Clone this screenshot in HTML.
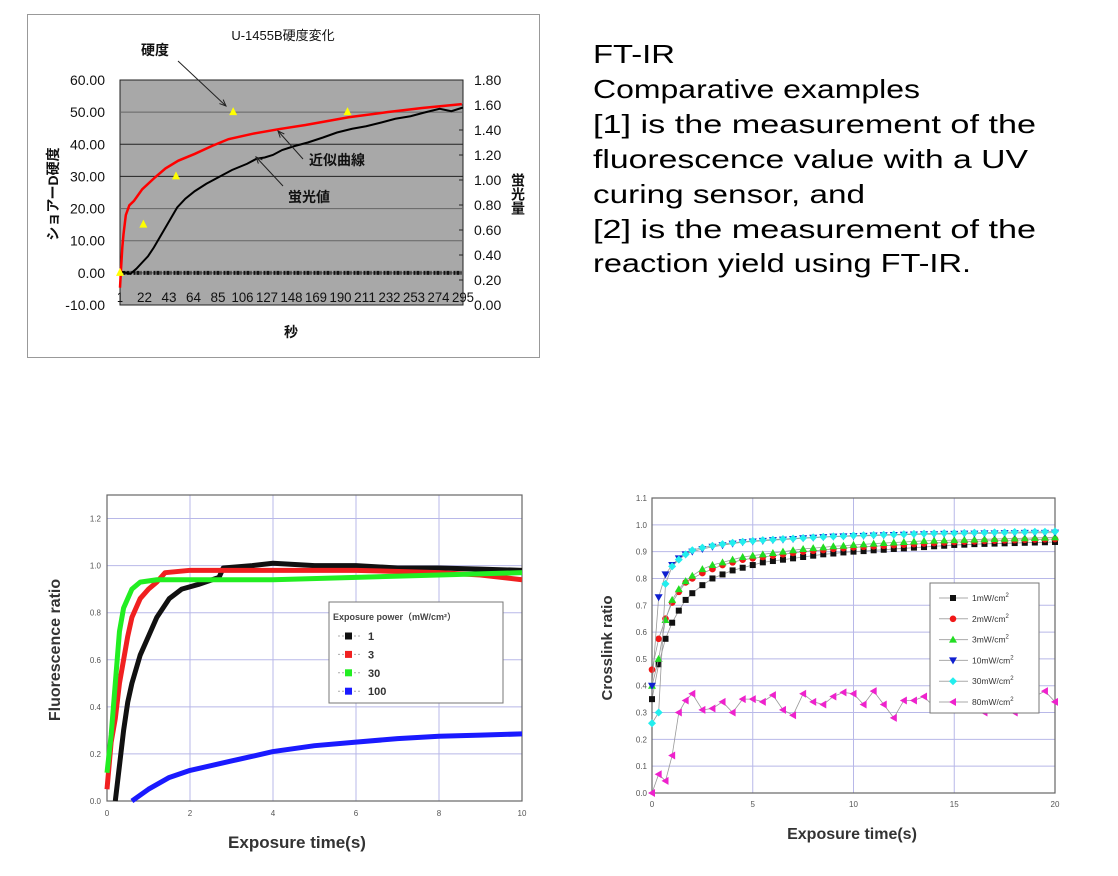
<!DOCTYPE html>
<html><head><meta charset="utf-8">
<style>
html,body{margin:0;padding:0;background:#fff;}
svg{display:block;}
text{font-family:"Liberation Sans","Noto Sans CJK JP",sans-serif;}
</style></head>
<body>
<svg id="root" width="1118" height="876" viewBox="0 0 1118 876" xmlns="http://www.w3.org/2000/svg">
<g id="top"></g>
<g id="desc">
<text x="593" y="63" font-size="26" textLength="82" lengthAdjust="spacingAndGlyphs">FT-IR</text>
<text x="593" y="98" font-size="26" textLength="327" lengthAdjust="spacingAndGlyphs">Comparative examples</text>
<text x="593" y="133" font-size="26" textLength="443" lengthAdjust="spacingAndGlyphs">[1] is the measurement of the</text>
<text x="593" y="168" font-size="26" textLength="435" lengthAdjust="spacingAndGlyphs">fluorescence value with a UV</text>
<text x="593" y="203" font-size="26" textLength="272" lengthAdjust="spacingAndGlyphs">curing sensor, and</text>
<text x="593" y="238" font-size="26" textLength="443" lengthAdjust="spacingAndGlyphs">[2] is the measurement of the</text>
<text x="593" y="272" font-size="26" textLength="378" lengthAdjust="spacingAndGlyphs">reaction yield using FT-IR.</text>
</g>
<g id="bl"></g>
<g id="br"></g>
</svg>
<script>
// ---------- Top chart data ----------
const topXTicks = [1,22,43,64,85,106,127,148,169,190,211,232,253,274,295];
const topLeftTicks = [-10,0,10,20,30,40,50,60];
const topRightTicks = [0,0.2,0.4,0.6,0.8,1.0,1.2,1.4,1.6,1.8];
const fitT = [1,2,3,4,6,9,13,20,31,40,51,65,80,94,115,137,160,197,230,260,294];
const fitV = [-4.6,2,8,12,18,21,22.4,26,29.7,32.5,34.9,37,39.5,41.6,43.3,44.7,46,48.4,50,51.3,52.5];
const fluT = [1,5,10,15,20,25,30,35,40,45,50,57,65,75,85,97,110,118,125,132,140,150,162,175,187,200,212,225,237,250,262,275,285,295];
const fluV = [0.27,0.26,0.25,0.29,0.34,0.39,0.46,0.54,0.62,0.70,0.78,0.85,0.91,0.97,1.02,1.08,1.13,1.17,1.18,1.20,1.24,1.27,1.30,1.34,1.38,1.41,1.43,1.46,1.49,1.51,1.54,1.57,1.55,1.58];
const hardT = [1,21,49,98,196];
const hardV = [0,15,30,50,50];

// ---------- Bottom-left data ----------
const blXTicks = [0,2,4,6,8,10];
const blYTicks = [0,0.2,0.4,0.6,0.8,1.0,1.2];
const blSeriesNames = ["1","3","30","100"];
const blT1 = [0.2,0.3,0.4,0.5,0.6,0.8,1.0,1.2,1.5,1.8,2.2,2.7,2.8,3.5,4,5,6,7,8,9,10];
const blV1 = [0,0.15,0.3,0.42,0.5,0.62,0.7,0.78,0.86,0.9,0.92,0.95,0.99,1.0,1.01,1.0,1.0,0.99,0.99,0.985,0.98];
const blT3 = [0,0.1,0.2,0.3,0.4,0.5,0.6,0.8,1.0,1.2,1.4,2,4,6,8,9,10];
const blV3 = [0.05,0.25,0.35,0.5,0.6,0.7,0.78,0.86,0.9,0.93,0.97,0.98,0.98,0.98,0.97,0.96,0.94];
const blT30 = [0,0.1,0.2,0.3,0.4,0.6,0.8,1.2,2,3,4,6,8,10];
const blV30 = [0.12,0.28,0.5,0.72,0.82,0.9,0.93,0.94,0.94,0.94,0.94,0.95,0.96,0.97];
const blT100 = [0.6,1,1.5,2,3,4,5,6,7,8,9,10];
const blV100 = [0,0.05,0.1,0.13,0.17,0.21,0.235,0.25,0.265,0.275,0.28,0.285];

// ---------- Bottom-right data ----------
const brXTicks = [0,5,10,15,20];
const brYTicks = [0,0.1,0.2,0.3,0.4,0.5,0.6,0.7,0.8,0.9,1.0,1.1];
const brTimes = [0,0.33,0.67,1,1.33,1.67,2,2.5,3,3.5,4,4.5,5,5.5,6,6.5,7,7.5,8,8.5,9,9.5,10,10.5,11,11.5,12,12.5,13,13.5,14,14.5,15,15.5,16,16.5,17,17.5,18,18.5,19,19.5,20];
const br1 = [0.35,0.48,0.575,0.635,0.68,0.72,0.745,0.775,0.80,0.815,0.83,0.84,0.85,0.86,0.865,0.87,0.875,0.88,0.885,0.89,0.893,0.897,0.90,0.902,0.905,0.907,0.91,0.912,0.915,0.917,0.92,0.922,0.925,0.926,0.928,0.929,0.93,0.931,0.932,0.933,0.934,0.935,0.936];
const br2 = [0.46,0.575,0.65,0.71,0.75,0.785,0.80,0.82,0.835,0.85,0.86,0.87,0.875,0.88,0.885,0.89,0.895,0.90,0.903,0.906,0.91,0.913,0.916,0.918,0.92,0.922,0.924,0.926,0.928,0.93,0.932,0.934,0.936,0.937,0.938,0.94,0.941,0.942,0.943,0.944,0.945,0.946,0.947];
const br3 = [0.40,0.50,0.645,0.72,0.76,0.79,0.81,0.835,0.85,0.86,0.87,0.88,0.885,0.89,0.895,0.90,0.905,0.91,0.913,0.916,0.92,0.922,0.925,0.927,0.93,0.932,0.934,0.936,0.938,0.94,0.941,0.942,0.943,0.944,0.945,0.946,0.947,0.948,0.949,0.95,0.951,0.952,0.953];
const br10 = [0.40,0.73,0.815,0.85,0.875,0.89,0.90,0.91,0.918,0.924,0.93,0.935,0.938,0.94,0.943,0.945,0.947,0.95,0.952,0.954,0.956,0.957,0.958,0.959,0.96,0.961,0.962,0.963,0.964,0.965,0.965,0.966,0.966,0.967,0.967,0.968,0.968,0.969,0.969,0.97,0.97,0.97,0.971];
const br30 = [0.26,0.30,0.78,0.845,0.87,0.89,0.905,0.915,0.922,0.928,0.933,0.937,0.94,0.943,0.945,0.947,0.949,0.951,0.953,0.955,0.957,0.958,0.96,0.961,0.962,0.963,0.964,0.965,0.966,0.967,0.968,0.969,0.969,0.97,0.971,0.971,0.972,0.972,0.973,0.973,0.974,0.974,0.975];
const br80 = [0.0,0.07,0.045,0.14,0.30,0.345,0.37,0.31,0.315,0.34,0.30,0.35,0.35,0.34,0.365,0.31,0.29,0.37,0.34,0.33,0.36,0.375,0.37,0.33,0.38,0.33,0.28,0.345,0.345,0.36,0.32,0.37,0.34,0.34,0.35,0.30,0.36,0.35,0.30,0.34,0.36,0.38,0.34];
const brLabels = ["1mW/cm","2mW/cm","3mW/cm","10mW/cm","30mW/cm","80mW/cm"];

const NS="http://www.w3.org/2000/svg";
function mk(parent,tag,attrs,txt){const e=document.createElementNS(NS,tag);for(const k in attrs)e.setAttribute(k,attrs[k]);if(txt!==undefined)e.textContent=txt;parent.appendChild(e);return e;}

// ================= TOP CHART =================
(function(){
const g=document.getElementById('top');
const X0=120,X1=463,Y0=80,Y1=305;
const xs=t=>X0+(t-1)*(X1-X0)/294;
const yl=v=>Y1-(v+10)*(Y1-Y0)/70;
const yr=v=>Y1-v*(Y1-Y0)/1.8;
let e=mk(g,'rect',{x:27.5,y:14.5,width:512,height:343,fill:'#fff',stroke:'#999'});


e=mk(g,'rect',{x:X0,y:Y0,width:X1-X0,height:Y1-Y0,fill:'#a8a8a8',stroke:'#222','stroke-width':1});


topLeftTicks.forEach(v=>{
  if(v>-10&&v<60){const l=mk(g,'line',{x1:X0,x2:X1,y1:yl(v),y2:yl(v),stroke:(v==30||v==40)?'#222':'#666','stroke-width':1});
  
  }
  const t=mk(g,'text',{x:105,y:yl(v)+5,'font-size':14,'text-anchor':'end',fill:'#111'},v.toFixed(2));
  
  
});
topRightTicks.forEach(v=>{
  const l=mk(g,'line',{x1:X1,x2:X1-4,y1:yr(v),y2:yr(v),stroke:'#222'});
  
  
  const t=mk(g,'text',{x:474,y:yr(v)+5,'font-size':14,fill:'#111'},v.toFixed(2));
  
  
});
topXTicks.forEach(v=>{
  const s=String(v);
  const t=mk(g,'text',{x:xs(v),y:302,'font-size':14,'text-anchor':'middle',fill:'#111',textLength:s.length==1?6:(s.length==2?15:22),lengthAdjust:'spacingAndGlyphs'},s);
  
  
});
e=mk(g,'line',{x1:xs(4),x2:xs(295),y1:yl(0),y2:yl(0),stroke:'#111','stroke-width':4,'stroke-dasharray':'2 1 3 1 1 2'});


e=mk(g,'polyline',{points:fluT.map((t,i)=>xs(t)+','+yr(fluV[i])).join(' '),fill:'none',stroke:'#000','stroke-width':2});


e=mk(g,'polyline',{points:fitT.map((t,i)=>xs(t)+','+yl(fitV[i])).join(' '),fill:'none',stroke:'#f00','stroke-width':2.5});


hardT.forEach((t,i)=>{
  const x=xs(t),y=yl(hardV[i]);
  const p=mk(g,'polygon',{points:`${x},${y-5} ${x-4},${y+3} ${x+4},${y+3}`,fill:'#ff0'});
  
  
});
const txt=(x,y,s,fs,name,extra)=>{const t=mk(g,'text',Object.assign({x:x,y:y,'font-size':fs,fill:'#111','font-weight':'bold'},extra||{}),s);return t;};
txt(283,40,'U-1455B硬度変化',13,'chart-title',{'text-anchor':'middle','font-weight':'normal'});
txt(141,55,'硬度',14,'hardness-annotation');
txt(309,165,'近似曲線',14,'fit-annotation');
txt(288,202,'蛍光値',14,'fluorescence-annotation');
txt(291,337,'秒',14,'x-axis-title',{'text-anchor':'middle'});
txt(0,0,'ショアーD硬度',14,'left-axis-title',{transform:'translate(58,194) rotate(-90)','text-anchor':'middle'});
txt(518,194,'蛍光量',14,'right-axis-title',{'writing-mode':'tb','text-anchor':'middle','glyph-orientation-vertical':0});
const arr=(x1,y1,x2,y2,name)=>{const l=mk(g,'line',{x1,y1,x2,y2,stroke:'#222','stroke-width':1});
 const a=Math.atan2(y2-y1,x2-x1),s=7;const p=mk(g,'polyline',{points:`${x2-s*Math.cos(a-0.4)},${y2-s*Math.sin(a-0.4)} ${x2},${y2} ${x2-s*Math.cos(a+0.4)},${y2-s*Math.sin(a+0.4)}`,fill:'none',stroke:'#222'});};
arr(178,61,226,106,'hardness-arrow');
arr(303,159,278,131,'fit-arrow');
arr(283,186,256,157,'fluorescence-arrow');
})();

// ================= BOTTOM LEFT =================
(function(){
const g=document.getElementById('bl');
const X0=107,X1=522,Y0=495,Y1=801;
const xs=t=>X0+t*(X1-X0)/10;
const ys=v=>Y1-v*(Y1-Y0)/1.3;
blXTicks.forEach(v=>{
  if(v>0&&v<10){const l=mk(g,'line',{x1:xs(v),x2:xs(v),y1:Y0,y2:Y1,stroke:'#b8b8e8','stroke-width':1});}
  const t=mk(g,'text',{x:xs(v),y:816,'font-size':8,'text-anchor':'middle',fill:'#555'},String(v));
  
  
});
blYTicks.forEach(v=>{
  if(v>0){const l=mk(g,'line',{x1:X0,x2:X1,y1:ys(v),y2:ys(v),stroke:'#b8b8e8','stroke-width':1});}
  const t=mk(g,'text',{x:101,y:ys(v)+3,'font-size':8,'text-anchor':'end',fill:'#555'},v.toFixed(1));
  
  
});
let e=mk(g,'rect',{x:X0,y:Y0,width:X1-X0,height:Y1-Y0,fill:'none',stroke:'#666','stroke-width':1.2});


const series=[[blT100,blV100,'#1a1aff'],[blT1,blV1,'#111'],[blT3,blV3,'#f02020'],[blT30,blV30,'#22ee22']];
series.forEach((s,k)=>{
  const p=mk(g,'polyline',{points:s[0].map((t,i)=>xs(t)+','+ys(s[1][i])).join(' '),fill:'none',stroke:s[2],'stroke-width':5,'stroke-linejoin':'round'});
  
  
});
e=mk(g,'rect',{x:329,y:602,width:174,height:101,fill:'#fff',stroke:'#777'});


e=mk(g,'text',{x:333,y:620,'font-size':9,fill:'#444','font-weight':'bold'},'Exposure power（mW/cm²）');


const cols=['#111','#f02020','#22ee22','#1a1aff'];
blSeriesNames.forEach((n,i)=>{
  const y=636+i*18.4;
  const l=mk(g,'line',{x1:338,x2:362,y1:y,y2:y,stroke:'#aaa','stroke-dasharray':'2 2'});
  
  
  const r=mk(g,'rect',{x:345,y:y-3.5,width:7,height:7,fill:cols[i]});
  
  
  const t=mk(g,'text',{x:368,y:y+4,'font-size':11,fill:'#333','font-weight':'bold'},n);
  
  
});
e=mk(g,'text',{x:297,y:848,'font-size':17,'text-anchor':'middle',fill:'#333','font-weight':'bold'},'Exposure time(s)');


e=mk(g,'text',{transform:'translate(60,650) rotate(-90)','font-size':16,'text-anchor':'middle',fill:'#333','font-weight':'bold'},'Fluorescence   ratio');


})();

// ================= BOTTOM RIGHT =================
(function(){
const g=document.getElementById('br');
const X0=652,X1=1055,Y0=498,Y1=793;
const xs=t=>X0+t*(X1-X0)/20;
const ys=v=>Y1-v*(Y1-Y0)/1.1;
brXTicks.forEach(v=>{
  if(v>0&&v<20){const l=mk(g,'line',{x1:xs(v),x2:xs(v),y1:Y0,y2:Y1,stroke:'#b8b8e8'});}
  const t=mk(g,'text',{x:xs(v),y:807,'font-size':8,'text-anchor':'middle',fill:'#555'},String(v));
  
  
});
brYTicks.forEach(v=>{
  if(v>0&&v<1.1){const l=mk(g,'line',{x1:X0,x2:X1,y1:ys(v),y2:ys(v),stroke:'#b8b8e8'});}
  const t=mk(g,'text',{x:647,y:ys(v)+3,'font-size':8,'text-anchor':'end',fill:'#555'},v.toFixed(1));
  
  
});
let e=mk(g,'rect',{x:X0,y:Y0,width:X1-X0,height:Y1-Y0,fill:'none',stroke:'#666','stroke-width':1.2});


const cols=['#111','#f01818','#22dd22','#1020d0','#22eeee','#ee22cc'];
const data=[br1,br2,br3,br10,br30,br80];
function marker(parent,k,x,y){
  const c=cols[k];let m;
  if(k==0) m=mk(parent,'rect',{x:x-3,y:y-3,width:6,height:6,fill:c});
  else if(k==1) m=mk(parent,'circle',{cx:x,cy:y,r:3.3,fill:c});
  else if(k==2) m=mk(parent,'polygon',{points:`${x},${y-4} ${x-4},${y+3} ${x+4},${y+3}`,fill:c});
  else if(k==3) m=mk(parent,'polygon',{points:`${x},${y+4} ${x-4},${y-3} ${x+4},${y-3}`,fill:c});
  else if(k==4) m=mk(parent,'polygon',{points:`${x},${y-4} ${x+4},${y} ${x},${y+4} ${x-4},${y}`,fill:c});
  else m=mk(parent,'polygon',{points:`${x-4},${y} ${x+3},${y-4} ${x+3},${y+4}`,fill:c});
  return m;
}
data.forEach((arr,k)=>{
  const p=mk(g,'polyline',{points:brTimes.map((t,i)=>xs(t)+','+ys(arr[i])).join(' '),fill:'none',stroke:'#999','stroke-width':0.8});
  
  
  brTimes.forEach((t,i)=>{
    const m=marker(g,k,xs(t),ys(arr[i]));
    
    
  });
});
e=mk(g,'rect',{x:930,y:583,width:109,height:130,fill:'#fff',stroke:'#777'});


brLabels.forEach((n,i)=>{
  const y=598+i*20.8;
  const l=mk(g,'line',{x1:939,x2:968,y1:y,y2:y,stroke:'#aaa'});
  
  
  const m=marker(g,i,953,y);
  
  
  const t=mk(g,'text',{x:972,y:y+3,'font-size':8.5,fill:'#333'},n);
  
  
  mk(t,'tspan',{dy:-4,'font-size':6},'2');
});
e=mk(g,'text',{x:852,y:839,'font-size':16,'text-anchor':'middle',fill:'#333','font-weight':'bold'},'Exposure time(s)');


e=mk(g,'text',{transform:'translate(612,648) rotate(-90)','font-size':15,'text-anchor':'middle',fill:'#333','font-weight':'bold'},'Crosslink ratio');


})();
</script>
</body></html>
